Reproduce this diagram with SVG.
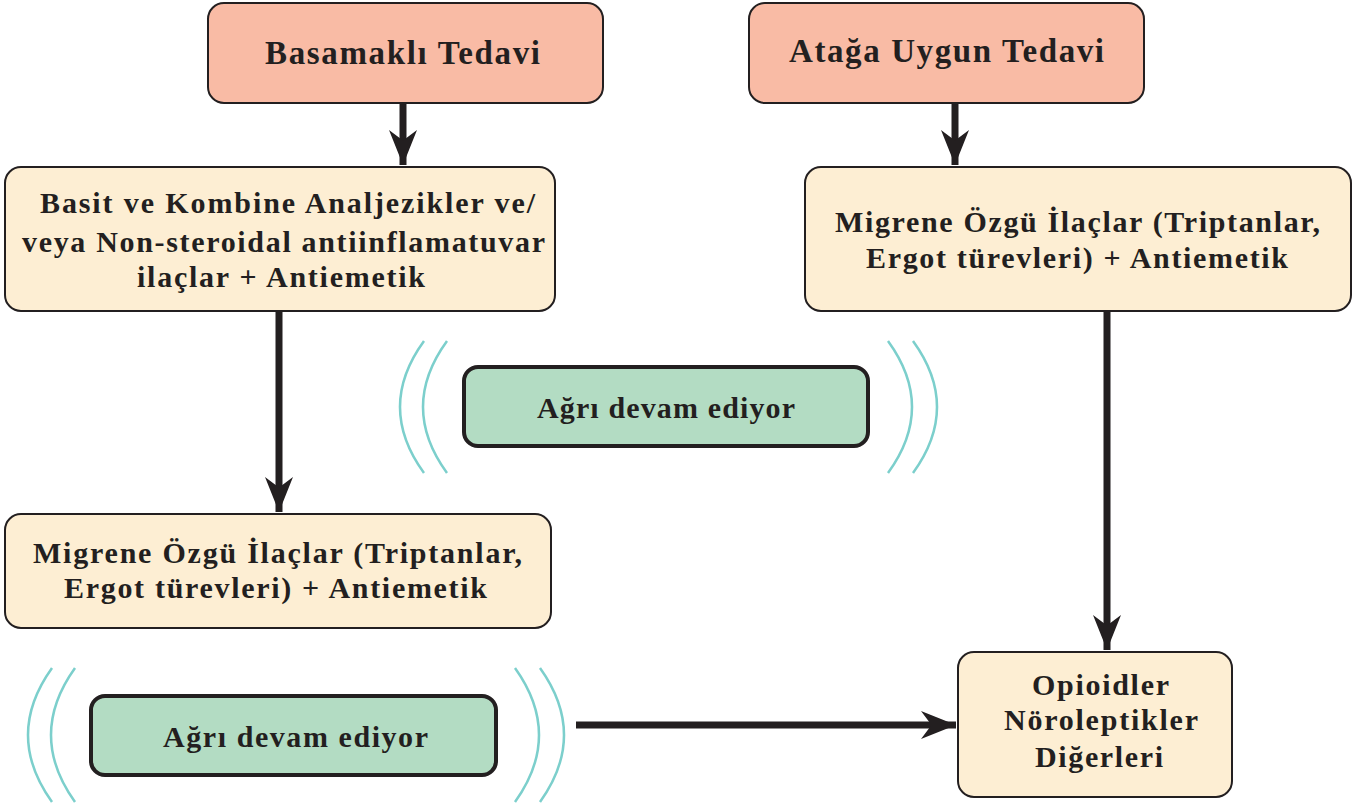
<svg xmlns="http://www.w3.org/2000/svg" width="1371" height="810" viewBox="0 0 1371 810">
<defs>
<style>
.t{font-family:"Liberation Serif","Times New Roman",serif;font-weight:bold;fill:#231f20;text-anchor:middle}
.h{font-size:33px}
.b{font-size:30px}
.red{fill:#f9bba5;stroke:#231f20;stroke-width:2}
.cr{fill:#fdeed3;stroke:#231f20;stroke-width:2}
.gr{fill:#b3dcc3;stroke:#231f20;stroke-width:4}
.arc{fill:none;stroke:#7ccfcc;stroke-width:2.5}
.c{stroke:#231f20;stroke-width:7;fill:none}
</style>
<marker id="ah" viewBox="0 0 10 10" refX="10" refY="5" markerWidth="5" markerHeight="4" markerUnits="strokeWidth" orient="auto" preserveAspectRatio="none">
<path d="M0,0 L10,5 L0,10 L3,5 Z" fill="#231f20"/>
</marker>
</defs>
<rect width="1371" height="810" fill="#fff"/>
<g id="connectors">
<line class="c" x1="403" y1="103" x2="403" y2="165" marker-end="url(#ah)"/>
<line class="c" x1="955" y1="103" x2="955" y2="165" marker-end="url(#ah)"/>
<line class="c" x1="279" y1="311" x2="279" y2="512" marker-end="url(#ah)"/>
<line class="c" x1="1107" y1="311" x2="1107" y2="650" marker-end="url(#ah)"/>
<line class="c" x1="576" y1="725" x2="956" y2="725" marker-end="url(#ah)"/>
</g>
<g id="n-basamakli">
<rect class="red" x="208" y="3" width="395" height="100" rx="16"/>
<text class="t h" x="402.5" y="64" textLength="275" lengthAdjust="spacing">Basamaklı Tedavi</text>
</g>
<g id="n-ataga">
<rect class="red" x="749" y="3" width="395" height="100" rx="16"/>
<text class="t h" x="946.5" y="62" textLength="315" lengthAdjust="spacing">Atağa Uygun Tedavi</text>
</g>
<g id="n-basit">
<rect class="cr" x="5" y="167" width="550" height="144" rx="16"/>
<text class="t b" x="287.5" y="213" textLength="495" lengthAdjust="spacing">Basit ve Kombine Analjezikler ve/</text>
<text class="t b" x="283.5" y="252" textLength="523" lengthAdjust="spacing">veya Non-steroidal antiinflamatuvar</text>
<text class="t b" x="281" y="287" textLength="288" lengthAdjust="spacing">ilaçlar + Antiemetik</text>
</g>
<g id="n-migren-r">
<rect class="cr" x="805" y="167" width="546" height="144" rx="16"/>
<text class="t b" x="1077.5" y="232" textLength="485" lengthAdjust="spacing">Migrene Özgü İlaçlar (Triptanlar,</text>
<text class="t b" x="1077" y="268" textLength="422" lengthAdjust="spacing">Ergot türevleri) + Antiemetik</text>
</g>
<g id="n-migren-l">
<rect class="cr" x="5" y="514" width="546" height="114" rx="16"/>
<text class="t b" x="277.5" y="563" textLength="489" lengthAdjust="spacing">Migrene Özgü İlaçlar (Triptanlar,</text>
<text class="t b" x="275.5" y="598" textLength="423" lengthAdjust="spacing">Ergot türevleri) + Antiemetik</text>
</g>
<g id="n-opioid">
<rect class="cr" x="958" y="652" width="274" height="145" rx="16"/>
<text class="t b" x="1100.5" y="695" textLength="137" lengthAdjust="spacing">Opioidler</text>
<text class="t b" x="1101" y="730" textLength="194" lengthAdjust="spacing">Nöroleptikler</text>
<text class="t b" x="1099" y="767" textLength="128" lengthAdjust="spacing">Diğerleri</text>
</g>
<g id="n-agri1">
<path class="arc" d="M424,341 Q376,407 424,473 M447,341 Q399,407 447,473 M888,341 Q936,407 888,473 M913,341 Q961,407 913,473"/>
<rect class="gr" x="464" y="367" width="404" height="79" rx="14"/>
<text class="t b" x="666" y="418" textLength="258" lengthAdjust="spacing">Ağrı devam ediyor</text>
</g>
<g id="n-agri2">
<path class="arc" d="M52,668 Q4,735 52,802 M75,668 Q27,735 75,802 M515,668 Q563,735 515,802 M540,668 Q588,735 540,802"/>
<rect class="gr" x="91" y="696" width="405" height="79" rx="14"/>
<text class="t b" x="295.5" y="747" textLength="265" lengthAdjust="spacing">Ağrı devam ediyor</text>
</g>
</svg>
